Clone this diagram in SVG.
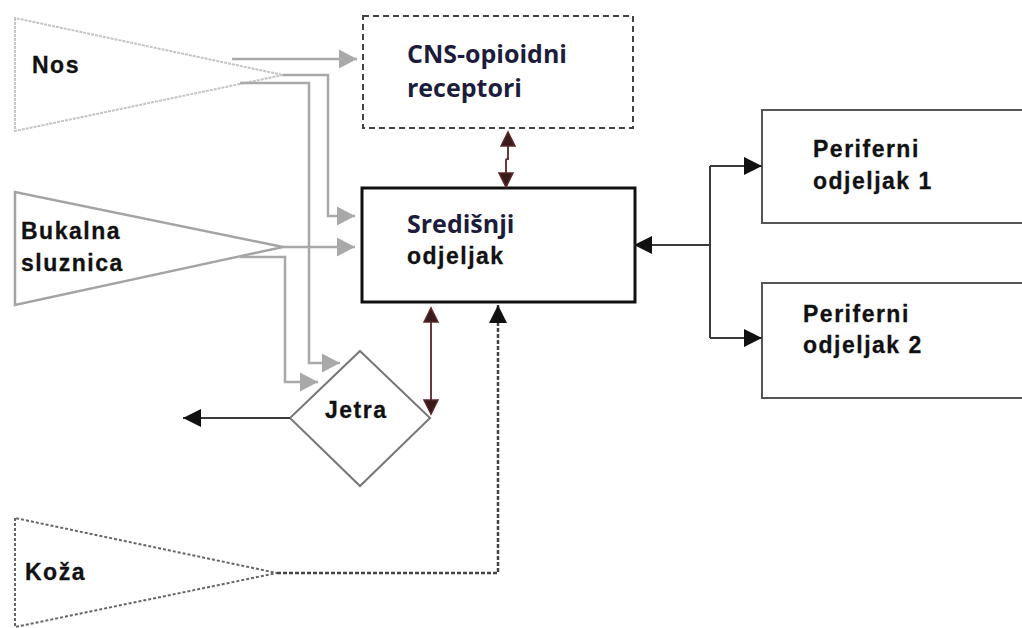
<svg xmlns="http://www.w3.org/2000/svg" width="1022" height="628" viewBox="0 0 1022 628">
<style>
.ar{font-family:"Liberation Sans",Arial,sans-serif;font-weight:bold;font-size:23px;letter-spacing:1.5px;fill:#111;stroke:#111;stroke-width:0.3}
.cal{font-family:"Open Sans","Liberation Sans",sans-serif;font-weight:bold;font-size:25px;fill:#1c1c3c}
.gray{fill:none;stroke:#a9a9a9;stroke-width:2.5}
.blk{fill:none;stroke:#3a3a3a;stroke-width:2}
.brn{fill:none;stroke:#6a3a3a;stroke-width:2}
.dot{fill:none;stroke:#444;stroke-width:2.5;stroke-dasharray:4 2}
</style>
<defs>
<marker id="ag" markerUnits="userSpaceOnUse" markerWidth="19" markerHeight="21" refX="18" refY="10.5" orient="auto"><path d="M0,1 L18,10.5 L0,20 z" fill="#a9a9a9"/></marker>
<marker id="ab" markerUnits="userSpaceOnUse" markerWidth="20" markerHeight="20" refX="18" refY="10" orient="auto"><path d="M0,1 L18,10 L0,19 z" fill="#111"/></marker>
<marker id="abr" markerUnits="userSpaceOnUse" markerWidth="18" markerHeight="18" refX="15" refY="8" orient="auto"><path d="M1,1 L15,8 L1,15 z" fill="#3a1a1a" stroke="#5a2a2a" stroke-width="1.5"/></marker>
</defs>

<g id="nos">
<polygon points="15,18 15,131 283,75" fill="#fff" stroke="#c4c4c4" stroke-width="2" stroke-dasharray="3 1"/>
<text class="ar" x="32" y="73">Nos</text>
</g>
<g id="bukalna">
<polygon points="15,192 15,305 283,247" fill="#fff" stroke="#a4a4a4" stroke-width="2.5"/>
<text class="ar" x="21" y="239">Bukalna</text>
<text class="ar" x="21" y="271">sluznica</text>
</g>
<g id="koza">
<polygon points="15,518 15,627 277,573" fill="#fff" stroke="#666" stroke-width="2" stroke-dasharray="3 2"/>
<text class="ar" x="25" y="580">Koža</text>
</g>
<g id="cns">
<rect x="363" y="16" width="270" height="112" fill="#fff" stroke="#444" stroke-width="2" stroke-dasharray="6 4"/>
<text class="cal" x="407" y="63">CNS-opioidni</text>
<text class="cal" x="407" y="97">receptori</text>
</g>
<g id="sredisnji">
<rect x="362" y="188" width="273" height="114" fill="#fff" stroke="#111" stroke-width="3"/>
<text class="cal" x="407" y="233">Središnji</text>
<text class="ar" x="407" y="264">odjeljak</text>
</g>
<g id="periferni1">
<rect x="762" y="110" width="280" height="113" fill="#fff" stroke="#555" stroke-width="2"/>
<text class="ar" x="813" y="157">Periferni</text>
<text class="ar" x="813" y="189">odjeljak 1</text>
</g>
<g id="periferni2">
<rect x="762" y="283" width="280" height="115" fill="#fff" stroke="#555" stroke-width="2"/>
<text class="ar" x="803" y="322">Periferni</text>
<text class="ar" x="803" y="353">odjeljak 2</text>
</g>
<g id="jetra">
<polygon points="360,351 430,418 360,486 290,418" fill="#fff" stroke="#777" stroke-width="2"/>
<text class="ar" x="325" y="418">Jetra</text>
</g>

<g id="connectors">
<path class="gray" d="M232,59 H357" marker-end="url(#ag)"/>
<path class="gray" d="M283,75 H328 V216 H355" marker-end="url(#ag)"/>
<path class="gray" d="M240,83 H309 V363 H340" marker-end="url(#ag)"/>
<path class="gray" d="M283,247 H355" marker-end="url(#ag)"/>
<path class="gray" d="M240,257 H285 V382 H318" marker-end="url(#ag)"/>
<path class="brn" d="M508,147 V158 L506,160 V170" />
<path class="brn" d="M508,160 V132" marker-end="url(#abr)"/>
<path class="brn" d="M506,160 V187" marker-end="url(#abr)"/>
<path class="brn" d="M431,360 V308" marker-end="url(#abr)"/>
<path class="brn" d="M431,360 V414" marker-end="url(#abr)"/>
<path class="blk" d="M290,418 H183" marker-end="url(#ab)"/>
<path class="dot" d="M277,573 H498 V305" marker-end="url(#ab)"/>
<path class="blk" d="M710,245 H634" marker-end="url(#ab)"/>
<path class="blk" d="M710,166 V338"/>
<path class="blk" d="M710,166 H762" marker-end="url(#ab)"/>
<path class="blk" d="M710,338 H762" marker-end="url(#ab)"/>
</g>
</svg>
